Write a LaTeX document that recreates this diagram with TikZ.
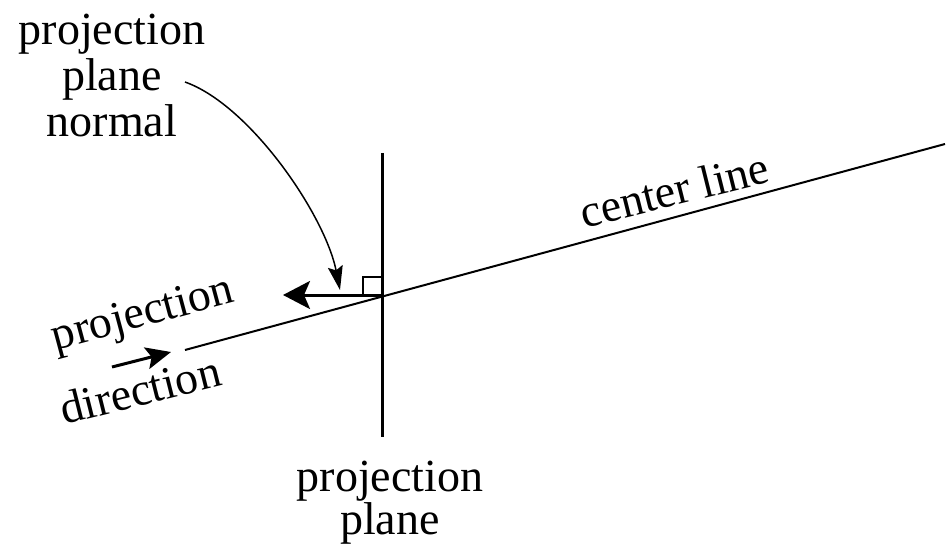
\documentclass[tikz,border=0pt]{standalone}
\usepackage{fontspec}
\setmainfont{Liberation Serif}
\usetikzlibrary{arrows.meta}
\begin{document}
\begin{tikzpicture}[x=1pt,y=-1pt,
  lbl/.style={inner sep=0pt, font=\fontsize{46}{46}\selectfont},
  thinline/.style={line width=2pt},
  thickline/.style={line width=3pt},
  bigarrow/.style={line width=3pt, -{Stealth[length=27pt,width=28pt,inset=6pt]}},
  smallarrow/.style={line width=3pt, -{Stealth[length=25pt,width=22pt,inset=5pt]}},
  curvearrow/.style={line width=1.5pt, -{Stealth[length=24pt,width=15pt,inset=4pt]}}]
\useasboundingbox[fill=white] (0,0) rectangle (952,548);
% geometry
\coordinate (cl1) at (185,350);
\coordinate (cl2) at (945,144);
\coordinate (pt) at (382,153);
\coordinate (pb) at (382,437);
\coordinate (X) at (382,295);
\coordinate (N) at (283,295);
\coordinate (cs) at (185,82);
\coordinate (ce) at (340,290);
\coordinate (ds) at (112,367);
\coordinate (de) at (171,352);
% lines
\draw[thinline] (cl1) -- (cl2);
\draw[thickline] (pt) -- (pb);
\draw[line width=1.2pt] (363,277) rectangle (X);
\draw[bigarrow] (X) -- (N);
\draw[curvearrow] (cs) .. controls (250,105) and (325,215) .. (ce);
\draw[smallarrow] (ds) -- (de);
% labels
\node[lbl, align=center] (normal) at (112,75) {projection\\plane\\normal};
\node[lbl, align=center, font=\fontsize{46}{43}\selectfont] (plane) at (390,503) {projection\\plane};
\node[lbl, anchor=base, rotate=14] (cline) at (678,205) {center line};
\node[lbl, anchor=base, rotate=15] (proj) at (146,326) {projection};
\node[lbl, anchor=base, rotate=14] (dir) at (144,405) {direction};
\end{tikzpicture}
\end{document}
